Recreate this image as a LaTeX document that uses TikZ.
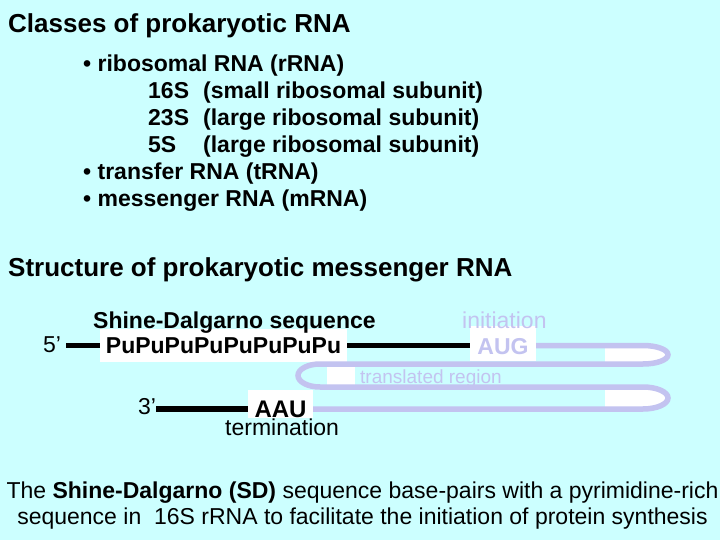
\documentclass[tikz,border=0pt]{standalone}
\usepackage{fontspec}
\setmainfont{Liberation Sans}
\usetikzlibrary{positioning,calc}
\definecolor{slidebg}{RGB}{204,255,255}
\definecolor{lilac}{RGB}{195,195,240}
\tikzset{
  txt/.style={anchor=base west,inner sep=0pt,font=\fontsize{23bp}{27bp}\selectfont},
  hdr/.style={txt,font=\fontsize{26bp}{30bp}\selectfont\bfseries},
  item/.style={txt,font=\fontsize{23bp}{27bp}\selectfont\bfseries},
  seqbox/.style={fill=white,inner sep=0pt,text depth=0pt,font=\fontsize{23bp}{27bp}\selectfont\bfseries},
  strand/.style={line width=5.5bp},
  coding/.style={line width=5.5bp,draw=lilac},
}
\begin{document}
\begin{tikzpicture}[x=1bp,y=-1bp]
\fill[slidebg] (0,0) rectangle (720,540);
\useasboundingbox (0,0) rectangle (720,540);
% classes of RNA
\node[hdr] (classes) at (8,33) {Classes of prokaryotic RNA};
\node[item] (rrna) at (83,72) {\textbullet\ ribosomal RNA (rRNA)};
\node[item] (s16) at (148,99) {\makebox[55bp][l]{16S}(small ribosomal subunit)};
\node[item] (s23) at (148,126) {\makebox[55bp][l]{23S}(large ribosomal subunit)};
\node[item] (s5) at (148,153) {\makebox[55bp][l]{5S}(large ribosomal subunit)};
\node[item] (trna) at (83,180) {\textbullet\ transfer RNA (tRNA)};
\node[item] (mrna) at (83,207) {\textbullet\ messenger RNA (mRNA)};
% mRNA structure
\node[hdr] (struct) at (8,277) {Structure of prokaryotic messenger RNA};
\node[txt] (five) at (43,352) {5’};
\node[seqbox,minimum width=247bp,minimum height=33bp,text height=16.5bp] (pu) at (223.5,345.5) {PuPuPuPuPuPuPuPu};
\node[item] (sdlabel) at (93,328) {Shine-Dalgarno sequence};
\node[seqbox,text=lilac,minimum width=66bp,minimum height=35bp,text height=21.5bp] (aug) at (503,343.5) {AUG};
\node[txt,text=lilac] (init) at (462,328) {initiation};
\coordinate (bendA) at (643,345.5);
\coordinate (bendB) at (320,364);
\coordinate (bendC) at (643,387);
\coordinate (lvlD) at (0,409);
\fill[white] (605,345.5) -- (bendA) arc[start angle=-90,end angle=90,x radius=25,y radius=9.25] -- (605,364) -- cycle;
\fill[white] (605,387) -- (bendC) arc[start angle=-90,end angle=90,x radius=25,y radius=11] -- (605,409) -- cycle;
\fill[white] (327,364) rectangle (355,387);
\node[txt,text=lilac,font=\fontsize{19bp}{23bp}\selectfont] (transl) at (360,383) {translated region};
\node[txt] (three) at (138,414) {3’};
\node[seqbox,font=\fontsize{24bp}{28bp}\selectfont\bfseries,minimum width=65bp,minimum height=28bp,text height=26.2bp] (aau) at (280.5,404) {AAU};
\node[txt] (term) at (225,435) {termination};
\draw[strand,shorten <=5bp] (five.east |- pu.west) -- (pu.west);
\draw[strand] (pu.east) -- (aug.west |- pu.east);
\draw[coding] (aug.east |- pu.east) -- (bendA)
  arc[start angle=-90,end angle=90,x radius=25,y radius=9.25] -- (bendB)
  arc[start angle=-90,end angle=-270,x radius=22,y radius=11.5] -- (bendC)
  arc[start angle=-90,end angle=90,x radius=25,y radius=11] -- (aau.east |- lvlD);
\draw[strand] (three.east |- lvlD) -- (aau.west |- lvlD);
% note
\node[txt,anchor=base] (note1) at (362.5,498) {The \textbf{Shine-Dalgarno (SD)} sequence base-pairs with a pyrimidine-rich};
\node[txt,anchor=base] (note2) at (362.5,524) {sequence in\ \ 16S rRNA to facilitate the initiation of protein synthesis};
\end{tikzpicture}
\end{document}
